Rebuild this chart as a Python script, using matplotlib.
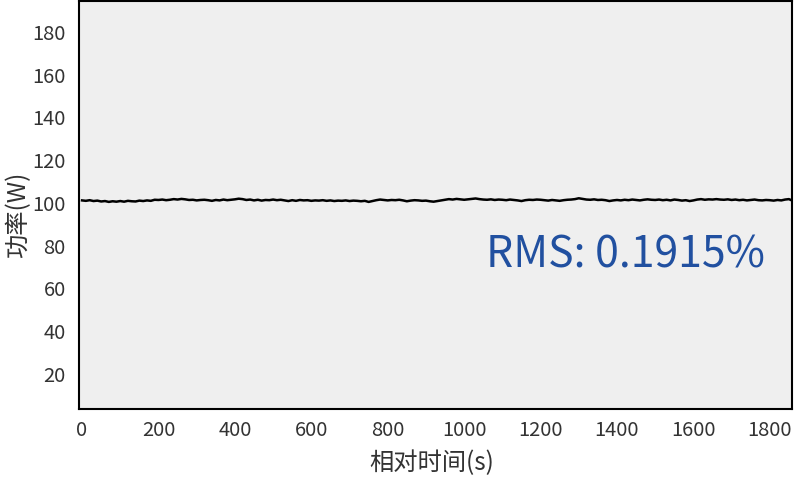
import numpy as np
import matplotlib
matplotlib.use("Agg")
import matplotlib.pyplot as plt

plt.rcParams['font.family'] = ['Noto Sans CJK SC', 'DejaVu Sans']

# time (s), sampled every 10 s
time_s = np.arange(0, 1870, 10)
power_w = [
    101.2, 101.0, 101.3, 100.9, 101.1, 100.7, 100.9, 100.5, 100.8, 100.6,
    100.9, 100.6, 101.0, 100.8, 100.7, 101.1, 100.9, 101.2, 101.0, 101.5,
    101.4, 101.6, 101.3, 101.5, 101.8, 101.6, 101.9, 101.7, 101.4, 101.5,
    101.2, 101.4, 101.5, 101.3, 101.0, 101.4, 101.2, 101.6, 101.3, 101.5,
    101.7, 102.0, 101.8, 101.4, 101.6, 101.2, 101.5, 101.1, 101.4, 101.3,
    101.6, 101.3, 101.5, 101.2, 100.9, 101.3, 101.0, 101.4, 101.2, 101.3,
    101.0, 101.2, 101.1, 101.3, 101.0, 101.2, 100.9, 101.1, 101.0, 101.2,
    100.9, 101.1, 101.0, 100.8, 101.0, 100.5, 100.9, 101.3, 101.6, 101.4,
    101.2, 101.4, 101.3, 101.5, 101.2, 100.8, 101.1, 101.3, 101.2, 101.0,
    101.1, 100.8, 100.6, 100.9, 101.2, 101.5, 101.8, 101.6, 101.9, 101.7,
    101.5, 101.7, 101.9, 102.1, 101.8, 101.6, 101.5, 101.7, 101.4, 101.6,
    101.5, 101.3, 101.6, 101.4, 101.2, 100.9, 101.3, 101.5, 101.4, 101.6,
    101.5, 101.3, 101.1, 101.4, 101.2, 101.0, 101.3, 101.5, 101.6, 101.8,
    102.2, 101.9, 101.6, 101.5, 101.7, 101.4, 101.5, 101.3, 100.9, 101.2,
    101.4, 101.2, 101.5, 101.3, 101.6, 101.4, 101.2, 101.5, 101.7, 101.5,
    101.4, 101.6, 101.3, 101.5, 101.2, 101.6, 101.4, 101.1, 101.3, 100.9,
    101.2, 101.6, 101.8, 101.5, 101.7, 101.6, 101.8, 101.6, 101.5, 101.7,
    101.4, 101.6, 101.3, 101.5, 101.2, 101.4, 101.6, 101.3, 101.2, 101.4,
    101.3, 101.1, 101.4, 101.2, 101.6, 101.8, 101.0,
]
x_ticks = [0, 200, 400, 600, 800, 1000, 1200, 1400, 1600, 1800]
y_ticks = [20, 40, 60, 80, 100, 120, 140, 160, 180]
rms_label = "RMS: 0.1915%"
x_label = "相对时间(s)"
y_label = "功率(W)"

fig = plt.figure(figsize=(7.95, 4.86), dpi=100)
ax = fig.add_axes([79/795, 1 - 409/486, (792 - 79)/795, 408/486])
ax.set_facecolor('#efefef')

ax.plot(time_s, power_w, color='black', lw=1.8, solid_joinstyle='round')

ax.set_xlim(-8, 1858)
ax.set_ylim(3.6, 194.5)
ax.set_xticks(x_ticks)
ax.set_yticks(y_ticks)
ax.tick_params(axis='both', length=0, labelsize=14.5, colors='#333333')
ax.tick_params(axis='x', pad=8)
ax.tick_params(axis='y', pad=9.5)
for s in ax.spines.values():
    s.set_linewidth(1.5)
    s.set_color('black')

ax.text(1058, 69.6, rms_label, color='#2150a0', fontsize=30.8,
        ha='left', va='baseline')

fig.text(432/795, 1 - 463/486, x_label, ha='center', va='center',
         fontsize=17.5, color='#333333')
fig.text(18/795, 1 - 215/486, y_label, ha='center', va='center',
         rotation=90, fontsize=17.5, color='#333333')

fig.savefig('out.png', dpi=100, facecolor='white')
